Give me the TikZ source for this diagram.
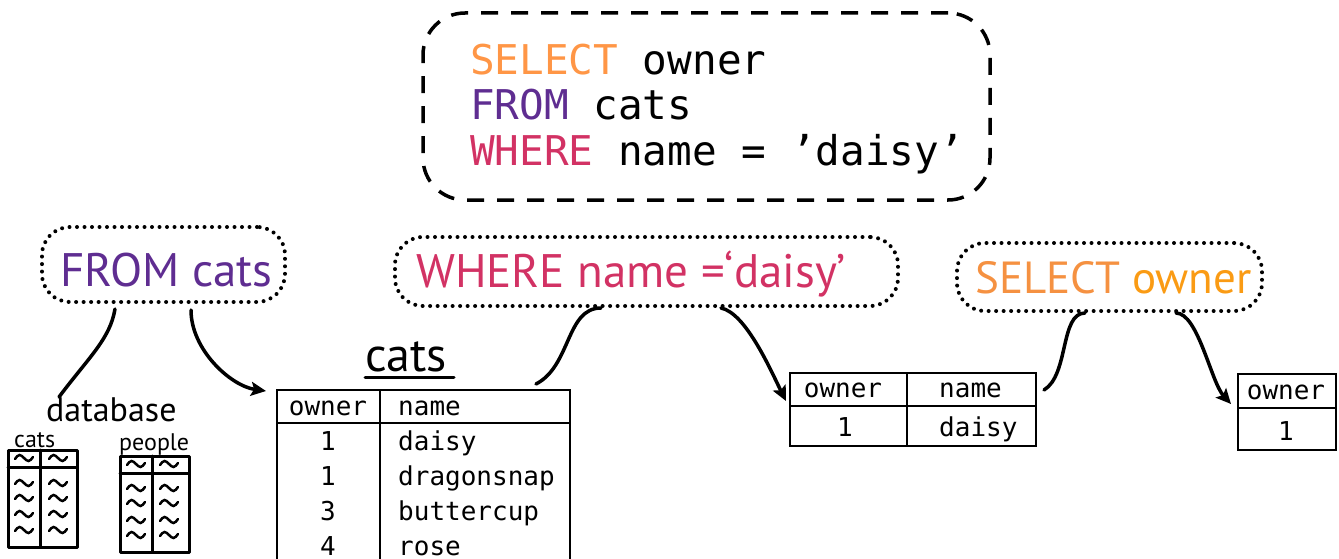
\documentclass[tikz,border=0pt]{standalone}
\usepackage{fontspec}
\setmainfont{PT Sans}
\newfontfamily\monof{DejaVu Sans Mono}
\newfontfamily\handf{PT Sans}
\usetikzlibrary{arrows.meta,calc}

\definecolor{sqlorange}{RGB}{255,150,70}
\definecolor{sqlpurple}{RGB}{95,45,145}
\definecolor{sqlpink}{RGB}{210,50,100}
\definecolor{handorange}{RGB}{245,145,65}
\definecolor{handyellow}{RGB}{250,155,20}

% a small hand-drawn tilde centred on the given point
\newcommand\minitilde[1]{%
  \draw[line width=2.5pt, line cap=round] ($(#1)+(-9,1)$) sin ++(4.5,-4) cos ++(4.5,3) sin ++(4.5,3) cos ++(4.5,-4);}

\begin{document}
\begin{tikzpicture}[x=1pt,y=-1pt,
  dotbox/.style={draw, line width=4pt, dash pattern=on 0pt off 7.5pt, line cap=round,
                 rounded corners=28pt, inner sep=0pt},
  dashbox/.style={draw, line width=3.5pt, dash pattern=on 17pt off 13pt, rounded corners=42pt,
                  inner sep=0pt},
  tabbox/.style={draw, line width=2pt, inner sep=0pt, anchor=north west},
  tabline/.style={line width=2pt},
  minitab/.style={line width=3pt, line cap=round, line join=round},
  wire/.style={line width=3.5pt, line cap=round},
  arr/.style={wire, -{Stealth[length=15pt,width=14pt,inset=3pt]}},
  sqltext/.style={anchor=base west, inner sep=0pt, font=\monof\fontsize{41}{45}\selectfont},
  celltext/.style={anchor=base, inner sep=0pt, font=\monof\fontsize{26}{30}\selectfont},
  handtext/.style={anchor=base west, inner sep=0pt, font=\handf\fontsize{47}{52}\selectfont},
  sketchtext/.style={anchor=base west, inner sep=0pt, font=\handf\fontsize{24}{26}\selectfont},
]
\clip (0,0) rectangle (1339,559);

% ---- query box ----
\node[dashbox, minimum width=567pt, minimum height=187pt] (query) at (706.5,106.5) {};
\node[sqltext] (q1) at (470,75) {\textcolor{sqlorange}{SELECT} owner};
\node[sqltext] (q2) at (470,120) {\textcolor{sqlpurple}{FROM} cats};
\node[sqltext] (q3) at (470,165) {\textcolor{sqlpink}{WHERE} name = ’daisy’};

% ---- step boxes ----
\node[dotbox, minimum width=243pt, minimum height=75pt] (fromq) at (163.5,264.5) {};
\node[handtext, text=sqlpurple] (fromt) at (60,286) {FROM cats};

\node[dotbox, minimum width=503pt, minimum height=69pt] (whereq) at (646.5,271.5) {};
\node[handtext, text=sqlpink] (wheret) at (416,287) {WHERE name =‘daisy’};

\node[dotbox, minimum width=305pt, minimum height=68pt] (selq) at (1109.5,277) {};
\node[handtext, font=\handf\fontsize{45}{50}\selectfont] (selt) at (975,293)
  {\textcolor{handorange}{SELECT} \textcolor{handyellow}{owner}};

% ---- database sketch ----
\node[anchor=base west, inner sep=0pt, font=\handf\fontsize{34}{36}\selectfont] (dbname) at (46,421) {database};
\node[sketchtext] (dbcats) at (14,447) {cats};
\node[sketchtext] (dbpeople) at (119,450) {people};

\draw[minitab] (8,450) rectangle (77,547);
\draw[minitab] (8,467) -- (77,467);
\draw[minitab] (40,450) -- (40,547);
\draw[minitab] (120,456) rectangle (189,552);
\draw[minitab] (120,473) -- (189,473);
\draw[minitab] (152,456) -- (152,552);
\foreach \yy in {458,483,498,514,530} {\minitilde{24,\yy} \minitilde{58,\yy}}
\foreach \yy in {464,488,503,520,535} {\minitilde{136,\yy} \minitilde{169,\yy}}

% ---- cats table ----
\node[anchor=base west, inner sep=0pt, font=\handf\fontsize{48}{52}\selectfont] (catsname) at (365,371) {cats};
\draw[line width=3pt, line cap=round] (catsname.south west) ++(0,6) -- ++(89,0);

\node[tabbox, minimum width=293pt, minimum height=200pt] (catstab) at (276,389) {};
\draw[tabline] (276,423) -- (569,423);
\draw[tabline] (380,389) -- (380,600);
\node[celltext] at (328,415) {owner};
\node[celltext, anchor=base west] at (398,415) {name};
\foreach \n/\nm [count=\i] in {1/daisy,1/dragonsnap,3/buttercup,4/rose} {
  \node[celltext] at (328,415+35*\i) {\n};
  \node[celltext, anchor=base west] at (398,415+35*\i) {\nm};
}

% ---- filtered table ----
\node[tabbox, minimum width=246pt, minimum height=73pt] (res1) at (789,372) {};
\draw[tabline] (789,406) -- (1035,406);
\draw[tabline] (907,372) -- (907,445);
\node[celltext] at (843,397) {owner};
\node[celltext, anchor=base west] at (939,397) {name};
\node[celltext] at (845,436) {1};
\node[celltext, anchor=base west] at (939,436) {daisy};

% ---- selected table ----
\node[tabbox, minimum width=98pt, minimum height=76pt] (res2) at (1237,373) {};
\draw[tabline] (1237,408) -- (1335,408);
\node[celltext] at (1286,399) {owner};
\node[celltext] at (1286,440) {1};

% ---- connectors ----
\coordinate (dbtop) at (59,397);
\draw[wire] ($(fromq.south west)+(75,5)$) .. controls +(-5,30) and +(30,-40) .. (dbtop);
\draw[arr] ($(fromq.south west)+(151,6)$) .. controls +(0,40) and +(-35,-5) .. ($(catstab.north west)+(-10,2)$);
\draw[wire] ($(catstab.north east)+(-35,-5)$) .. controls +(35,-18) and +(-35,0) .. ($(whereq.south west)+(208,0)$);
\draw[arr] ($(whereq.south west)+(328,0)$) .. controls +(25,5) and +(-15,-30) .. ($(res1.north west)+(-3,29)$);
\draw[wire] ($(res1.north east)+(7,18)$) .. controls +(25,-15) and +(-25,0) .. ($(selq.south west)+(130,0)$);
\draw[arr] ($(selq.south west)+(221,0)$) .. controls +(22,0) and +(-20,-22) .. ($(res2.north west)+(-6,31)$);
\end{tikzpicture}
\end{document}
